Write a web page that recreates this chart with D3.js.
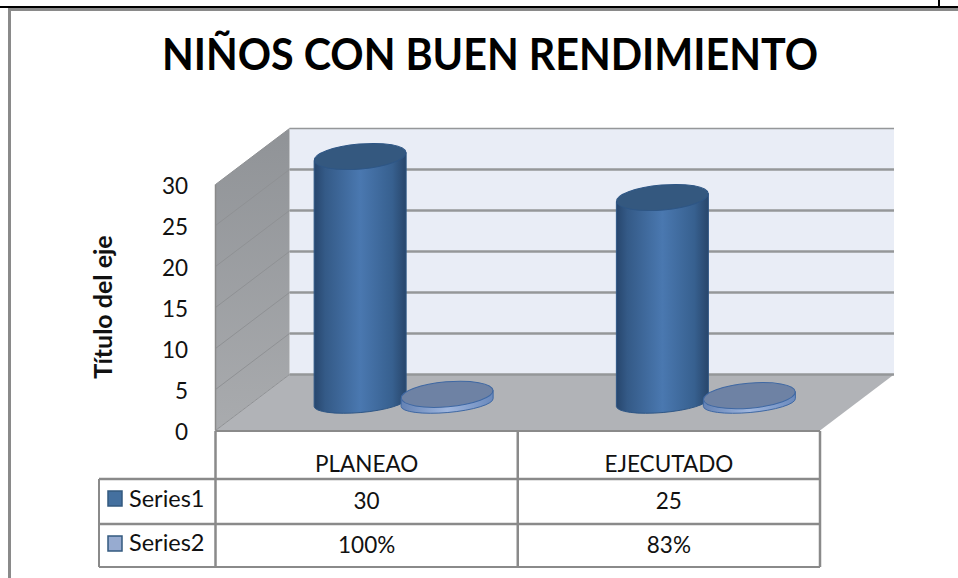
<!DOCTYPE html>
<html>
<head>
<meta charset="utf-8">
<script src="https://cdn.jsdelivr.net/npm/d3@7"></script>
<style>
html, body { margin: 0; padding: 0; background: #fff; }
svg { display: block; }
text { font-family: Lato, "Open Sans", sans-serif; fill: #111; }
</style>
</head>
<body>
<div id="chart"></div>
<script>
var categories = ["PLANEAO", "EJECUTADO"];
var seriesNames = ["Series1", "Series2"];
var series1 = [30, 25];
var series2 = [1, 0.83];
var series2Labels = ["100%", "83%"];
var yTicks = [0, 5, 10, 15, 20, 25, 30];

var svgWidth = 958;
var svgHeight = 578;

// front edge of the floor and how far the back wall is shifted from it
var front = { left: 215.5, right: 820, bottom: 430.5, top: 184.5 };
var depth = { x: 74, y: -56 };

var svg = d3.select("#chart").append("svg")
    .attr("width", svgWidth)
    .attr("height", svgHeight);

var defs = svg.append("defs");

function addGradient(id, stops, x2, y2) {
    var g = defs.append("linearGradient").attr("id", id)
        .attr("x1", 0).attr("y1", 0).attr("x2", x2).attr("y2", y2);
    stops.forEach(function (s) {
        g.append("stop").attr("offset", s[0]).attr("stop-color", s[1]);
    });
}
addGradient("cyl1", [[0, "#27466d"], [0.12, "#345a87"], [0.5, "#4a78b0"], [0.85, "#37608f"], [1, "#28466b"]], 1, 0);
addGradient("cyl2", [[0, "#6482b4"], [0.5, "#9fb6de"], [1, "#6a89bc"]], 1, 0);
addGradient("wall", [[0, "#909397"], [1, "#a9abae"]], 0, 1);

// value scale on the front plane, the same one shifted to the back wall
var yFront = d3.scaleLinear().domain([0, 30]).range([front.bottom, front.top]);
function yBack(v) { return yFront(v) + depth.y; }
function yMid(v) { return yFront(v) + depth.y / 2; }

var xCat = d3.scaleBand().domain(categories)
    .range([front.left + depth.x / 2, front.right + depth.x / 2]);
var groupWidth = 174;
var xSeries = d3.scaleBand().domain(seriesNames).range([0, groupWidth]);
var catPad = (xCat.bandwidth() - groupWidth) / 2;

var line = d3.line();

// back wall
svg.append("path")
    .attr("d", line([[front.left + depth.x, yBack(30)], [front.right + depth.x, yBack(30)],
        [front.right + depth.x, yBack(0)], [front.left + depth.x, yBack(0)]]) + "Z")
    .attr("fill", "#e9edf6");

// side wall
svg.append("path")
    .attr("d", line([[front.left, yFront(30)], [front.left + depth.x, yBack(30)],
        [front.left + depth.x, yBack(0)], [front.left, yFront(0)]]) + "Z")
    .attr("fill", "url(#wall)");

// floor
svg.append("path")
    .attr("d", line([[front.left, yFront(0)], [front.left + depth.x, yBack(0)],
        [front.right + depth.x, yBack(0)], [front.right, yFront(0)]]) + "Z")
    .attr("fill", "#b1b3b7");

// gridlines on both walls
yTicks.forEach(function (t) {
    svg.append("line")
        .attr("x1", front.left + depth.x).attr("x2", front.right + depth.x)
        .attr("y1", yBack(t)).attr("y2", yBack(t))
        .attr("stroke", "#959799").attr("stroke-width", t == 30 ? 1.5 : 2.5);
    svg.append("line")
        .attr("x1", front.left).attr("x2", front.left + depth.x)
        .attr("y1", yFront(t)).attr("y2", yBack(t))
        .attr("stroke", "#8f9194").attr("stroke-width", 1);
});
svg.append("line")
    .attr("x1", front.left).attr("x2", front.left)
    .attr("y1", yFront(30)).attr("y2", yFront(0))
    .attr("stroke", "#8a8a8a").attr("stroke-width", 1.5);

// cylinder: body from base to value, tilted ellipse on top
var rx = 46, ry = 12.5, ryBase = 10, tilt = -5, lean = 4;

function drawCylinder(cx, value, bodyFill, topFill, stroke) {
    var yTop = yMid(value);
    var yBase = yMid(0);
    svg.append("path")
        .attr("d", `M${cx - rx},${yTop + lean} L${cx - rx},${yBase + lean}`
            + ` A${rx},${ryBase} ${tilt} 0 0 ${cx + rx},${yBase - lean}`
            + ` L${cx + rx},${yTop - lean} Z`)
        .attr("fill", bodyFill)
        .attr("stroke", stroke).attr("stroke-width", 1);
    svg.append("ellipse")
        .attr("rx", rx).attr("ry", ry)
        .attr("transform", `translate(${cx},${yTop}) rotate(${tilt})`)
        .attr("fill", topFill)
        .attr("stroke", stroke).attr("stroke-width", 1);
}

categories.forEach(function (c, i) {
    var x0 = xCat(c) + catPad;
    drawCylinder(x0 + xSeries("Series1") + xSeries.bandwidth() / 2, series1[i],
        "url(#cyl1)", "#34587f", "#2e5685");
});
categories.forEach(function (c, i) {
    var x0 = xCat(c) + catPad;
    drawCylinder(x0 + xSeries("Series2") + xSeries.bandwidth() / 2, series2[i],
        "url(#cyl2)", "#6e82a4", "#3f68a3");
});

// value axis labels
var yAxis = svg.append("g")
    .attr("transform", "translate(196,1.5)")
    .call(d3.axisLeft(yFront).tickValues(yTicks).tickSize(0).tickPadding(8));
yAxis.select(".domain").remove();
yAxis.selectAll("text")
    .style("font-family", "Lato, sans-serif")
    .style("font-size", "22.5px")
    .style("fill", "#111");

svg.append("text")
    .attr("transform", "translate(112,307) rotate(-90)")
    .attr("text-anchor", "middle")
    .style("font-size", "25px")
    .style("font-weight", 700)
    .text("Título del eje");

svg.append("text")
    .attr("x", 490).attr("y", 70)
    .attr("text-anchor", "middle")
    .attr("textLength", 656)
    .attr("lengthAdjust", "spacingAndGlyphs")
    .style("font-size", "44px")
    .style("font-weight", 700)
    .style("fill", "#000")
    .text("NIÑOS CON BUEN RENDIMIENTO");

// data table under the chart
var rowY = [431, 479, 524, 567];
var colX = [front.left, xCat("EJECUTADO") - depth.x / 2, front.right];
var tableColor = "#8a8a8a";

function rule(x1, y1, x2, y2, w) {
    svg.append("line")
        .attr("x1", x1).attr("y1", y1).attr("x2", x2).attr("y2", y2)
        .attr("stroke", tableColor).attr("stroke-width", w);
}
rule(front.left, rowY[0], front.right, rowY[0], 2);
rule(99, rowY[1], front.right, rowY[1], 2.5);
rule(99, rowY[2], front.right, rowY[2], 2.5);
rule(99, rowY[3], front.right, rowY[3], 2);
rule(99, rowY[1], 99, rowY[3], 2);
colX.forEach(function (x) { rule(x, rowY[0], x, rowY[3], 2.5); });

function cell(x, y, label, anchor, size) {
    svg.append("text")
        .attr("x", x).attr("y", y)
        .attr("text-anchor", anchor || "middle")
        .style("font-size", (size || 22.5) + "px")
        .text(label);
}
categories.forEach(function (c, i) {
    var cx = (colX[i] + colX[i + 1]) / 2;
    cell(cx, 472, c);
    cell(cx, 509, series1[i]);
    cell(cx, 553, series2Labels[i]);
});

var swatchFill = ["#44709f", "#97abd0"];
seriesNames.forEach(function (s, i) {
    svg.append("rect")
        .attr("x", 108).attr("y", [491, 536][i])
        .attr("width", 14).attr("height", 15)
        .attr("fill", swatchFill[i])
        .attr("stroke", "#33597f").attr("stroke-width", 1.5);
    cell(129, [507, 551][i], s, "start", 23.5);
});

// outer frame and the black page rule above it
svg.append("path")
    .attr("d", "M9.5,578 L9.5,9.5 L958,9.5")
    .attr("fill", "none")
    .attr("stroke", "#8a8a8a").attr("stroke-width", 3);
svg.append("line")
    .attr("x1", 0).attr("x2", 958).attr("y1", 7).attr("y2", 7)
    .attr("stroke", "#000").attr("stroke-width", 2);
svg.append("line")
    .attr("x1", 939).attr("x2", 939).attr("y1", 0).attr("y2", 7)
    .attr("stroke", "#000").attr("stroke-width", 2);
</script>
</body>
</html>
